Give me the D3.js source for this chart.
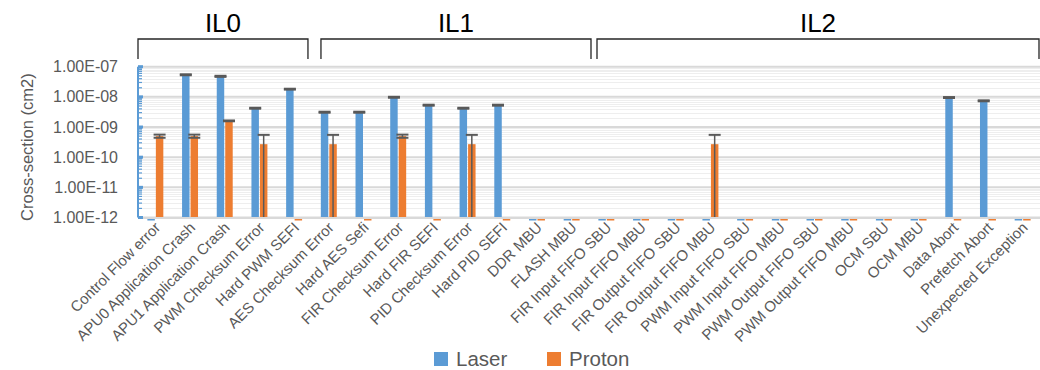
<!DOCTYPE html>
<html>
<head>
<meta charset="utf-8">
<script src="https://cdn.jsdelivr.net/npm/d3@7"></script>
<style>
  html, body { margin: 0; padding: 0; background: #fff; }
  svg { display: block; font-family: "Liberation Sans", Arial, sans-serif; }
</style>
</head>
<body>
<svg id="chart" width="1040" height="370"></svg>
<script>
const categories = [
  "Control Flow error", "APU0 Application Crash", "APU1 Application Crash",
  "PWM Checksum Error", "Hard PWM SEFI", "AES Checksum Error", "Hard AES Sefi",
  "FIR Checksum Error", "Hard FIR SEFI", "PID Checksum Error", "Hard PID SEFI",
  "DDR MBU", "FLASH MBU", "FIR Input FIFO SBU", "FIR Input FIFO MBU",
  "FIR Output FIFO SBU", "FIR Output FIFO MBU", "PWM Input FIFO SBU",
  "PWM Input FIFO MBU", "PWM Output FIFO SBU", "PWM Output FIFO MBU",
  "OCM SBU", "OCM MBU", "Data Abort", "Prefetch Abort", "Unexpected Exception"
];
const seriesNames = ["Laser", "Proton"];
const laser = [0, 5.4e-8, 4.8e-8, 4.2e-9, 1.8e-8, 3.1e-9, 3.1e-9, 9.7e-9, 5.3e-9, 4.2e-9, 5.3e-9,
  0, 0, 0, 0, 0, 0, 0, 0, 0, 0, 0, 0, 9.5e-9, 7.4e-9, 0];
const laserErr = [0, 2e-9, 2e-9, 1.5e-10, 6e-10, 1.2e-10, 1.2e-10, 3.5e-10, 2e-10, 1.5e-10, 2e-10,
  0, 0, 0, 0, 0, 0, 0, 0, 0, 0, 0, 0, 3.5e-10, 2.7e-10, 0];
const proton = [5e-10, 5e-10, 1.6e-9, 2.7e-10, 0, 2.7e-10, 0, 5e-10, 0, 2.7e-10, 0,
  0, 0, 0, 0, 0, 2.7e-10, 0, 0, 0, 0, 0, 0, 0, 0, 0];
const protonErr = [6e-11, 6e-11, 5e-11, 2.8e-10, 0, 2.8e-10, 0, 6e-11, 0, 2.8e-10, 0,
  0, 0, 0, 0, 0, 2.8e-10, 0, 0, 0, 0, 0, 0, 0, 0, 0];
const yTicks = [1e-12, 1e-11, 1e-10, 1e-9, 1e-8, 1e-7];
const yTickLabels = ["1.00E-12", "1.00E-11", "1.00E-10", "1.00E-09", "1.00E-08", "1.00E-07"];
const groupNames = ["IL0", "IL1", "IL2"];
const groupFirst = [0, 5, 13];
const groupLast = [4, 12, 25];
const colors = ["#5b9bd5", "#ed7d31"];
const yTitle = "Cross-section (cm2)";

const svg = d3.select("#chart");
const pLeft = 138, pRight = 1040, pTop = 66.7, pBottom = 217.5;

const x = d3.scaleBand().domain(categories).range([pLeft, pRight]).paddingInner(0.54).paddingOuter(0.27);
const x1 = d3.scaleBand().domain(seriesNames).range([0, x.bandwidth()]).paddingInner(0.12);
const y = d3.scaleLog().domain([1e-12, 1e-7]).range([pBottom, pTop]);

// minor gridlines
const minor = [];
for (let e = -12; e < -7; e++) for (let m = 2; m <= 9; m++) minor.push(m * Math.pow(10, e));
svg.append("g").selectAll("line").data(minor).join("line")
  .attr("x1", pLeft).attr("x2", pRight)
  .attr("y1", d => Math.round(y(d)) + 0.5).attr("y2", d => Math.round(y(d)) + 0.5)
  .attr("stroke", "#eeeeee").attr("stroke-width", 1);
// major gridlines
svg.append("g").selectAll("line").data(yTicks).join("line")
  .attr("x1", pLeft).attr("x2", pRight)
  .attr("y1", d => y(d)).attr("y2", d => y(d))
  .attr("stroke", "#d9d9d9").attr("stroke-width", 2);

// y axis labels
svg.append("g").selectAll("text").data(yTicks).join("text")
  .attr("x", 118).attr("y", d => y(d)).attr("dy", "0.35em")
  .attr("text-anchor", "end").attr("fill", "#595959").attr("font-size", 16)
  .text((d, i) => yTickLabels[i]);

// y title
svg.append("text")
  .attr("transform", `translate(33,${(pTop + pBottom) / 2 + 5}) rotate(-90)`)
  .attr("text-anchor", "middle").attr("fill", "#595959").attr("font-size", 16.5)
  .text(yTitle);

// data
const data = categories.map((c, i) => ({
  cat: c,
  vals: [
    { s: "Laser", v: laser[i], e: laserErr[i], c: colors[0] },
    { s: "Proton", v: proton[i], e: protonErr[i], c: colors[1] }
  ]
}));

const g = svg.append("g").selectAll("g").data(data).join("g")
  .attr("transform", d => `translate(${x(d.cat)},0)`);

g.selectAll("rect").data(d => d.vals).join("rect")
  .attr("x", d => x1(d.s)).attr("width", x1.bandwidth())
  .attr("y", d => d.v > 0 ? y(d.v) : pBottom + 1)
  .attr("height", d => d.v > 0 ? pBottom - y(d.v) : 2)
  .attr("fill", d => d.c);

// error bars
const eb = g.selectAll("g.err").data(d => d.vals.filter(v => v.v > 0)).join("g").attr("class", "err");
eb.each(function (d) {
  const cx = x1(d.s) + x1.bandwidth() / 2;
  const hi = d.v + d.e;
  const lo = d.v - d.e;
  const yHi = y(hi);
  const yLo = lo > 1e-12 ? y(lo) : pBottom;
  const sel = d3.select(this);
  sel.append("line").attr("x1", cx).attr("x2", cx).attr("y1", yHi).attr("y2", yLo)
    .attr("stroke", "#595959").attr("stroke-width", 1.5);
  sel.append("line").attr("x1", cx - 6).attr("x2", cx + 6).attr("y1", yHi).attr("y2", yHi)
    .attr("stroke", "#595959").attr("stroke-width", 2);
  if (lo > 1e-12) {
    sel.append("line").attr("x1", cx - 6).attr("x2", cx + 6).attr("y1", yLo).attr("y2", yLo)
      .attr("stroke", "#595959").attr("stroke-width", 2);
  }
});

// x axis line
svg.append("line").attr("x1", pLeft).attr("x2", pRight).attr("y1", pBottom + 0.5).attr("y2", pBottom + 0.5)
  .attr("stroke", "#d9d9d9").attr("stroke-width", 2);

// y axis (blue) with ticks
svg.append("line").attr("x1", pLeft).attr("x2", pLeft).attr("y1", pTop).attr("y2", pBottom)
  .attr("stroke", colors[0]).attr("stroke-width", 2);
svg.append("g").selectAll("line").data(minor).join("line")
  .attr("x1", pLeft).attr("x2", pLeft + 4)
  .attr("y1", d => y(d)).attr("y2", d => y(d))
  .attr("stroke", colors[0]).attr("stroke-width", 1.2);
svg.append("g").selectAll("line").data(yTicks).join("line")
  .attr("x1", pLeft).attr("x2", pLeft + 5)
  .attr("y1", d => y(d)).attr("y2", d => y(d))
  .attr("stroke", colors[0]).attr("stroke-width", 3);

// x labels
svg.append("g").selectAll("text").data(categories).join("text")
  .attr("transform", d => `translate(${x(d) + x.bandwidth() / 2 + 6},${pBottom + 11}) rotate(-45)`)
  .attr("text-anchor", "end").attr("fill", "#595959").attr("font-size", 15)
  .text(d => d);

// group brackets
const step = x.step();
const bracketOffA = [0, 9.5, 8];
const bracketOffB = [-3.5, 2, 0];
groupNames.forEach((name, i) => {
  const a = x(categories[groupFirst[i]]) - (step - x.bandwidth()) / 2 + bracketOffA[i];
  const b = Math.min(x(categories[groupLast[i]]) + x.bandwidth() + (step - x.bandwidth()) / 2 + bracketOffB[i], pRight - 1);
  svg.append("path")
    .attr("d", `M${a},59 V39 H${b} V59`)
    .attr("fill", "none").attr("stroke", "#262626").attr("stroke-width", 1.3);
  svg.append("text").attr("x", (a + b) / 2).attr("y", 32)
    .attr("text-anchor", "middle").attr("font-size", 26).attr("fill", "#000")
    .text(name);
});

// legend
const lg = svg.append("g").selectAll("g").data(seriesNames).join("g")
  .attr("transform", (d, i) => `translate(${[434, 547][i]},352)`);
lg.append("rect").attr("width", 14).attr("height", 14).attr("fill", (d, i) => colors[i]);
lg.append("text").attr("x", 22).attr("y", 14)
  .attr("font-size", 20.5).attr("fill", "#595959").text(d => d);
</script>
</body>
</html>
